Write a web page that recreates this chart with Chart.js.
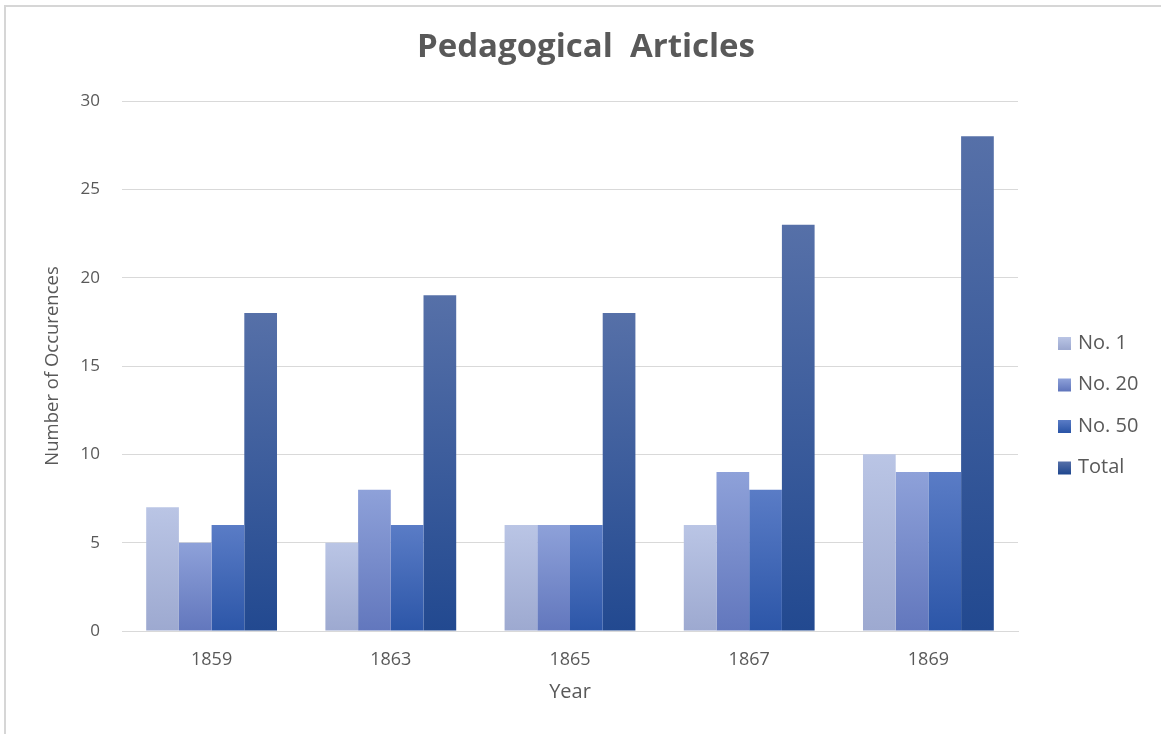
<!DOCTYPE html>
<html>
<head>
<meta charset="utf-8">
<script src="https://cdn.jsdelivr.net/npm/chart.js@4.4.1/dist/chart.umd.min.js"></script>
<style>
  html, body { margin: 0; padding: 0; background: #fff; }
  #wrap { width: 1161px; height: 734px; position: relative; }
</style>
</head>
<body>
<div id="wrap"><canvas id="chart" width="1161" height="734"></canvas></div>
<script>
// data
var years = ['1859', '1863', '1865', '1867', '1869'];
var no1 = [7, 5, 6, 6, 10];
var no20 = [5, 8, 6, 9, 9];
var no50 = [6, 6, 6, 8, 9];
var total = [18, 19, 18, 23, 28];
var seriesNames = ['No. 1', 'No. 20', 'No. 50', 'Total'];
var chartTitle = 'Pedagogical  Articles';

// top / bottom shades of each series
var shades = [
    ['#bac5e5', '#9da9d0'],
    ['#8ea1d9', '#6277bd'],
    ['#5a7cc6', '#2c56a8'],
    ['#5670a8', '#224990']
];

var FONT = '"Open Sans", sans-serif';
var GREY = '#595959';

function barFill(idx) {
    return function(context) {
        var chart = context.chart;
        if (!chart.chartArea || context.raw === undefined) return shades[idx][1];
        var y = chart.scales.y;
        var top = y.getPixelForValue(context.raw);
        var bottom = y.getPixelForValue(0);
        if (!isFinite(top) || bottom - top < 1) return shades[idx][1];
        var g = chart.ctx.createLinearGradient(0, top, 0, bottom);
        g.addColorStop(0, shades[idx][0]);
        g.addColorStop(1, shades[idx][1]);
        return g;
    };
}

var frame = {
    id: 'frame',
    beforeDraw: function(chart) {
        var ctx = chart.ctx;
        ctx.save();
        ctx.fillStyle = '#ffffff';
        ctx.fillRect(0, 0, chart.width, chart.height);
        ctx.strokeStyle = '#d6d6d6';
        ctx.lineWidth = 2;
        ctx.beginPath();
        ctx.moveTo(5, chart.height);
        ctx.lineTo(5, 6);
        ctx.lineTo(chart.width, 6);
        ctx.stroke();
        ctx.restore();
    }
};

// title over the whole picture + legend on the right
var extras = {
    id: 'extras',
    afterDraw: function(chart) {
        var ctx = chart.ctx;
        ctx.save();
        ctx.font = 'bold 33px ' + FONT;
        ctx.textAlign = 'center';
        ctx.textBaseline = 'middle';
        ctx.fillStyle = GREY;
        ctx.fillText(chartTitle, 586, 48);

        ctx.textAlign = 'left';
        ctx.font = '20px ' + FONT;
        chart.data.datasets.forEach(function(ds, i) {
            var cy = 343 + i * 41.5;
            var g = ctx.createLinearGradient(0, cy - 6, 0, cy + 6);
            g.addColorStop(0, shades[i][0]);
            g.addColorStop(1, shades[i][1]);
            ctx.fillStyle = g;
            ctx.fillRect(1058, cy - 6, 13, 13);
            ctx.fillStyle = GREY;
            ctx.fillText(ds.label, 1078, cy);
        });
        ctx.restore();
    }
};

var seriesData = [no1, no20, no50, total];

new Chart(document.getElementById('chart'), {
    type: 'bar',
    data: {
        labels: years,
        datasets: seriesData.map(function(vals, i) {
            return {
                label: seriesNames[i],
                data: vals,
                backgroundColor: barFill(i),
                borderWidth: 0,
                categoryPercentage: 0.73,
                barPercentage: 1.0
            };
        })
    },
    options: {
        responsive: false,
        animation: false,
        layout: { padding: { left: 0, right: 143, top: 101, bottom: 0 } },
        plugins: {
            legend: { display: false },
            tooltip: { enabled: false },
            title: { display: false }
        },
        scales: {
            x: {
                grid: { display: false, drawTicks: false },
                border: { display: true, color: '#d9d9d9', width: 1 },
                ticks: { color: GREY, font: { family: FONT, size: 18 }, padding: 18 },
                title: {
                    display: true,
                    text: 'Year',
                    color: GREY,
                    font: { family: FONT, size: 20 },
                    padding: { top: 0, bottom: 30 }
                },
                afterFit: function(scale) { scale.height = 103; }
            },
            y: {
                min: 0,
                max: 30,
                ticks: { stepSize: 5, color: GREY, font: { family: FONT, size: 17 }, padding: 22 },
                grid: { color: '#d9d9d9', drawTicks: false },
                border: { display: false },
                title: {
                    display: true,
                    text: 'Number of Occurences',
                    color: GREY,
                    font: { family: FONT, size: 18.5 },
                    padding: { top: 42, bottom: 0 }
                },
                afterFit: function(scale) { scale.width = 122; }
            }
        }
    },
    plugins: [frame, extras]
});
</script>
</body>
</html>
